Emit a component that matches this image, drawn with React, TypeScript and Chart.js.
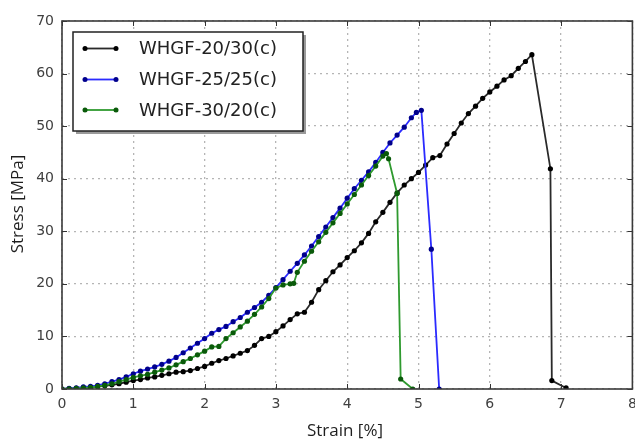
import React, { useEffect, useRef } from "react";
import { Chart, registerables } from "chart.js";

Chart.register(...registerables);

const seriesNames = ["WHGF-20/30(c)", "WHGF-25/25(c)", "WHGF-30/20(c)"];

// WHGF-20/30(c): [strain %, stress MPa]
const blackStrain = [0, 0.1, 0.2, 0.3, 0.4, 0.5, 0.6, 0.7, 0.8, 0.9, 1.0, 1.1, 1.2, 1.3, 1.4, 1.5, 1.6, 1.7, 1.8, 1.9, 2.0, 2.1, 2.2, 2.3, 2.4, 2.5, 2.6, 2.7, 2.8, 2.9, 3.0, 3.1, 3.2, 3.3, 3.4, 3.5, 3.6, 3.7, 3.8, 3.9, 4.0, 4.1, 4.2, 4.3, 4.4, 4.5, 4.6, 4.7, 4.8, 4.9, 5.0, 5.1, 5.2, 5.3, 5.4, 5.5, 5.6, 5.7, 5.8, 5.9, 6.0, 6.1, 6.2, 6.3, 6.4, 6.5, 6.59, 6.85, 6.87, 7.07];
const blackStress = [0, 0.05, 0.1, 0.2, 0.3, 0.45, 0.6, 0.8, 1.0, 1.3, 1.6, 1.8, 2.1, 2.3, 2.6, 2.9, 3.2, 3.3, 3.5, 3.9, 4.3, 4.9, 5.4, 5.8, 6.3, 6.8, 7.3, 8.3, 9.6, 10.0, 10.9, 12.0, 13.2, 14.3, 14.6, 16.5, 18.9, 20.6, 22.3, 23.6, 25.0, 26.3, 27.8, 29.6, 31.8, 33.6, 35.5, 37.3, 38.8, 40.0, 41.2, 42.6, 44.0, 44.4, 46.6, 48.6, 50.6, 52.4, 53.8, 55.3, 56.5, 57.6, 58.8, 59.6, 61.0, 62.3, 63.6, 41.9, 1.6, 0.2];

// WHGF-25/25(c)
const blueStrain = [0, 0.1, 0.2, 0.3, 0.4, 0.5, 0.6, 0.7, 0.8, 0.9, 1.0, 1.1, 1.2, 1.3, 1.4, 1.5, 1.6, 1.7, 1.8, 1.9, 2.0, 2.1, 2.2, 2.3, 2.4, 2.5, 2.6, 2.7, 2.8, 2.9, 3.0, 3.1, 3.2, 3.3, 3.4, 3.5, 3.6, 3.7, 3.8, 3.9, 4.0, 4.1, 4.2, 4.3, 4.4, 4.5, 4.6, 4.7, 4.8, 4.9, 4.97, 5.04, 5.18, 5.29];
const blueStress = [0, 0.1, 0.2, 0.4, 0.5, 0.7, 1.0, 1.4, 1.8, 2.3, 2.9, 3.4, 3.8, 4.2, 4.7, 5.3, 6.0, 6.9, 7.8, 8.7, 9.6, 10.6, 11.3, 11.9, 12.8, 13.6, 14.6, 15.5, 16.5, 17.8, 19.3, 20.8, 22.4, 23.9, 25.5, 27.2, 29.0, 30.8, 32.6, 34.4, 36.3, 38.1, 39.7, 41.3, 43.1, 45.0, 46.8, 48.3, 49.8, 51.6, 52.6, 53.0, 26.6, 0];

// WHGF-30/20(c)
const greenStrain = [0, 0.1, 0.2, 0.3, 0.4, 0.5, 0.6, 0.7, 0.8, 0.9, 1.0, 1.1, 1.2, 1.3, 1.4, 1.5, 1.6, 1.7, 1.8, 1.9, 2.0, 2.1, 2.2, 2.3, 2.4, 2.5, 2.6, 2.7, 2.8, 2.9, 3.0, 3.1, 3.2, 3.25, 3.3, 3.4, 3.5, 3.6, 3.7, 3.8, 3.9, 4.0, 4.1, 4.2, 4.3, 4.4, 4.5, 4.55, 4.58, 4.70, 4.75, 4.92];
const greenStress = [0, 0.05, 0.1, 0.2, 0.3, 0.5, 0.7, 1.0, 1.4, 1.8, 2.2, 2.5, 2.8, 3.2, 3.6, 4.0, 4.6, 5.2, 5.8, 6.5, 7.2, 8.0, 8.1, 9.6, 10.7, 11.8, 12.9, 14.2, 15.6, 17.2, 19.2, 19.8, 20.0, 20.1, 22.2, 24.3, 26.2, 28.0, 29.8, 31.6, 33.4, 35.2, 37.0, 38.8, 40.6, 42.4, 44.3, 44.8, 43.8, 37.2, 1.9, 0];

const xTicks = [0, 1, 2, 3, 4, 5, 6, 7, 8];
const yTicks = [0, 10, 20, 30, 40, 50, 60, 70];

const lineColors = ["#2a2a2a", "#2b2bff", "#2f9a2f"];
const markerColors = ["#000000", "#00008c", "#0a5a0a"];

const toPoints = (xs: number[], ys: number[]) => xs.map((x, i) => ({ x, y: ys[i] }));

const W = 635;
const H = 442;

const overlayPlugin = {
  id: "overlay",
  afterDraw(chart: any) {
    const ctx = chart.ctx as CanvasRenderingContext2D;
    const area = chart.chartArea;
    const xs = chart.scales.x;
    const ys = chart.scales.y;
    ctx.save();
    // inward ticks
    ctx.strokeStyle = "#333";
    ctx.lineWidth = 1;
    const tl = 5;
    xTicks.forEach((v) => {
      const px = Math.round(xs.getPixelForValue(v)) + 0.5;
      ctx.beginPath();
      ctx.moveTo(px, area.bottom);
      ctx.lineTo(px, area.bottom - tl);
      ctx.moveTo(px, area.top);
      ctx.lineTo(px, area.top + tl);
      ctx.stroke();
    });
    yTicks.forEach((v) => {
      const py = Math.round(ys.getPixelForValue(v)) + 0.5;
      ctx.beginPath();
      ctx.moveTo(area.left, py);
      ctx.lineTo(area.left + tl, py);
      ctx.moveTo(area.right, py);
      ctx.lineTo(area.right - tl, py);
      ctx.stroke();
    });
    // frame
    ctx.strokeStyle = "#3a3a3a";
    ctx.lineWidth = 1.6;
    ctx.strokeRect(area.left, area.top, area.right - area.left, area.bottom - area.top);

    // legend
    const lx = 73, ly = 32, lw = 230, lh = 99;
    ctx.fillStyle = "rgba(120,120,120,0.75)";
    ctx.fillRect(lx + 3, ly + 3, lw, lh);
    ctx.fillStyle = "#ffffff";
    ctx.fillRect(lx, ly, lw, lh);
    ctx.strokeStyle = "#222";
    ctx.lineWidth = 1.5;
    ctx.strokeRect(lx, ly, lw, lh);
    const rows = [48.5, 79.5, 110];
    ctx.font = "18px 'DejaVu Sans'";
    ctx.textBaseline = "middle";
    ctx.textAlign = "left";
    seriesNames.forEach((name, i) => {
      const y = rows[i];
      ctx.strokeStyle = lineColors[i];
      ctx.lineWidth = 1.8;
      ctx.beginPath();
      ctx.moveTo(85, y);
      ctx.lineTo(116, y);
      ctx.stroke();
      ctx.fillStyle = markerColors[i];
      [85, 116].forEach((mx) => {
        ctx.beginPath();
        ctx.arc(mx, y, 2.5, 0, Math.PI * 2);
        ctx.fill();
      });
      ctx.fillStyle = "#222";
      ctx.fillText(name, 139, y + 1);
    });

    // axis titles
    ctx.fillStyle = "#1e1e1e";
    ctx.font = "17px 'Open Sans'";
    ctx.textAlign = "center";
    ctx.textBaseline = "middle";
    ctx.fillText("Strain [%]", 345, 431);
    ctx.translate(18, 204);
    ctx.rotate(-Math.PI / 2);
    ctx.fillText("Stress [MPa]", 0, 0);
    ctx.restore();
  },
};

export default function App() {
  const ref = useRef<HTMLCanvasElement | null>(null);
  useEffect(() => {
    if (!ref.current) return;
    const mk = (i: number, xs: number[], ys: number[], order: number) => ({
      label: seriesNames[i],
      data: toPoints(xs, ys),
      showLine: true,
      borderColor: lineColors[i],
      borderWidth: 1.8,
      pointRadius: 2.6,
      pointBorderWidth: 0,
      pointBackgroundColor: markerColors[i],
      pointHoverRadius: 2.6,
      tension: 0,
      order,
    });
    const chart = new Chart(ref.current, {
      type: "scatter",
      data: {
        datasets: [
          mk(0, blackStrain, blackStress, 2),
          mk(1, blueStrain, blueStress, 1),
          mk(2, greenStrain, greenStress, 0),
        ],
      },
      plugins: [overlayPlugin],
      options: {
        responsive: false,
        animation: false,
        layout: { padding: { left: 0, top: 21, right: 2, bottom: 0 } },
        plugins: { legend: { display: false }, tooltip: { enabled: false } },
        scales: {
          x: {
            type: "linear",
            min: 0,
            max: 8,
            afterBuildTicks: (s: any) => {
              s.ticks = xTicks.map((v) => ({ value: v }));
            },
            afterFit: (s: any) => {
              s.height = 53;
              s.paddingLeft = 0;
              s.paddingRight = 0;
            },
            ticks: {
              color: "#404040",
              font: { family: "'DejaVu Sans'", size: 14 },
              padding: 7,
              maxRotation: 0,
              autoSkip: false,
            },
            grid: { color: "#b5b5b5", lineWidth: 1.3, drawTicks: false },
            border: { display: false, dash: [2, 4] },
          },
          y: {
            type: "linear",
            min: 0,
            max: 70,
            afterBuildTicks: (s: any) => {
              s.ticks = yTicks.map((v) => ({ value: v }));
            },
            afterFit: (s: any) => {
              s.width = 62;
              s.paddingTop = 0;
              s.paddingBottom = 0;
            },
            ticks: {
              color: "#404040",
              font: { family: "'DejaVu Sans'", size: 14 },
              padding: 8,
              autoSkip: false,
            },
            grid: { color: "#b5b5b5", lineWidth: 1.3, drawTicks: false },
            border: { display: false, dash: [2, 4] },
          },
        },
      } as any,
    });
    return () => chart.destroy();
  }, []);
  return (
    <div style={{ position: "absolute", left: 0, top: 0, width: W, height: H, background: "#fff" }}>
      <canvas ref={ref} width={W} height={H} style={{ width: W, height: H, display: "block" }} />
    </div>
  );
}
